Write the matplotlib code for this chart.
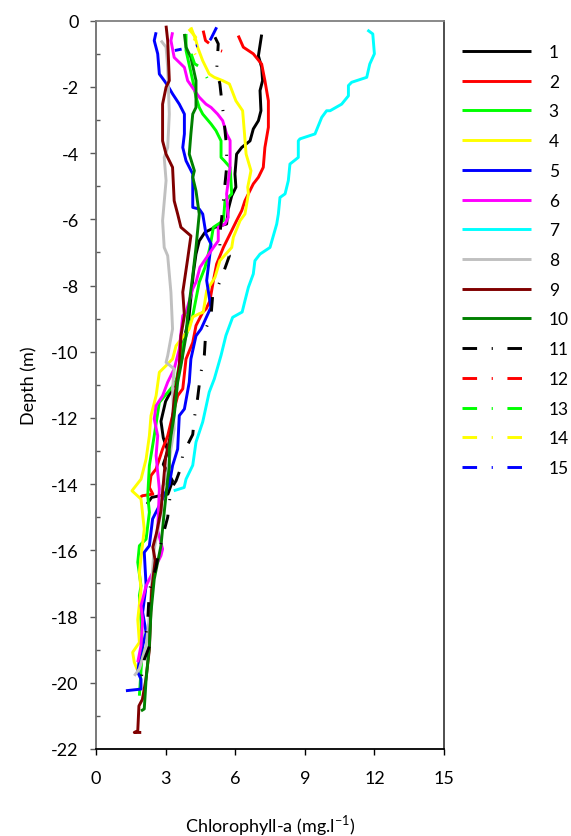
import matplotlib
matplotlib.use("Agg")
from matplotlib import pyplot as plt
from matplotlib.ticker import MultipleLocator

plt.rcParams['font.family'] = ['Lato', 'DejaVu Sans']
plt.rcParams['axes.unicode_minus'] = False

# chlorophyll-a (x) and depth (y)
chl_1 = [7.14, 7.0, 7.14, 7.18, 7.07, 7.11, 7.0, 6.78, 6.64, 6.28, 6.06, 5.99, 6.03, 5.85, 5.7, 5.63, 5.13, 4.7, 4.45,
         4.31, 4.2, 4.1, 4.0, 3.8, 3.7, 3.5, 3.3, 3.0, 2.8, 2.9, 3.1, 2.9, 3.3, 3.1, 2.4, 2.2]
depth_1 = [-0.42, -1.06, -1.41, -1.81, -2.11, -2.72, -3.02, -3.27, -3.63, -3.83, -4.03, -4.63, -5.03, -5.29, -5.7, -6.14,
           -6.24, -6.39, -6.65, -7.05, -7.6, -8.3, -9.0, -9.6, -10.2, -10.8, -11.1, -11.5, -12.1, -12.6, -13.0, -13.4,
           -13.9, -14.3, -14.4, -14.6]

chl_2 = [6.13, 6.35, 6.78, 7.14, 7.28, 7.43, 7.43, 7.28, 7.21, 7.0, 6.78, 6.42, 6.28, 6.06, 5.78, 5.49, 5.2, 5.06, 4.91,
         4.75, 4.6, 4.31, 4.17, 3.88, 3.74, 3.52, 3.3, 3.09, 2.87, 2.59, 2.37, 2.3, 2.45, 2.0, 1.9]
depth_2 = [-0.45, -0.8, -1.0, -1.31, -1.81, -2.42, -3.22, -3.83, -4.43, -4.73, -4.93, -5.44, -5.74, -6.04, -6.44, -6.85,
           -7.35, -7.85, -8.46, -8.7, -8.81, -9.21, -9.72, -10.22, -11.12, -11.33, -11.93, -12.54, -12.94, -13.54,
           -13.74, -14.1, -14.3, -14.35, -14.4]

chl_3 = [3.88, 3.88, 4.17, 4.31, 4.45, 4.6, 4.96, 5.17, 5.39, 5.39, 5.53, 5.78, 5.85, 5.56, 5.49, 5.06, 4.91, 4.7, 4.45,
         4.17, 3.74, 3.45, 3.09, 2.73, 2.51, 2.3, 2.23, 2.3, 2.16, 1.87, 1.8, 1.94, 1.87, 2.01, 1.87]
depth_3 = [-0.4, -0.9, -1.81, -2.31, -2.62, -2.82, -3.12, -3.32, -3.63, -4.13, -4.23, -4.43, -5.23, -5.44, -6.04, -6.24,
           -6.85, -7.45, -7.9, -8.91, -9.82, -10.92, -11.23, -11.53, -12.54, -13.44, -14.35, -14.85, -15.66, -15.86,
           -16.36, -17.07, -17.37, -18.88, -20.39]

chl_4 = [4.09, 4.31, 4.38, 4.6, 4.88, 5.1, 5.46, 5.75, 6.03, 6.32, 6.39, 6.47, 6.68, 6.54, 6.57, 6.42, 6.21, 5.92, 5.85,
         5.34, 5.13, 4.77, 4.62, 4.45, 4.17, 4.02, 3.45, 3.3, 3.02, 2.73, 2.59, 2.37, 2.3, 2.16, 1.94, 1.55, 1.94, 2.08,
         1.87, 1.94, 1.8, 1.87, 1.58, 1.65, 1.8]
depth_4 = [-0.2, -0.6, -0.8, -1.21, -1.61, -1.71, -1.81, -1.91, -2.42, -2.72, -3.32, -4.03, -4.53, -5.03, -5.23, -5.84,
           -6.04, -6.54, -6.85, -7.25, -7.75, -8.16, -8.81, -8.85, -8.95, -9.31, -9.82, -10.22, -10.42, -10.62, -11.33,
           -11.93, -12.54, -13.24, -13.85, -14.2, -14.45, -15.36, -16.66, -17.17, -18.09, -18.78, -19.08, -19.38, -19.64]

chl_5 = [2.59, 2.51, 2.66, 2.73, 2.94, 3.09, 3.30, 3.59, 3.81, 3.81, 3.74, 3.88, 4.17, 4.17, 4.45, 4.6, 4.74, 4.96, 4.91,
         4.77, 4.95, 4.53, 4.31, 4.09, 4.02, 3.81, 3.59, 3.52, 3.30, 3.16, 2.73, 2.44, 2.30, 2.08, 2.16, 2.01, 2.16, 1.87,
         1.80, 1.94, 1.94, 1.29]
depth_5 = [-0.35, -0.6, -1.0, -1.61, -1.81, -1.96, -2.21, -2.52, -2.82, -3.42, -3.83, -4.23, -4.63, -5.64, -5.69, -5.84,
           -6.44, -6.75, -7.05, -7.85, -8.66, -9.31, -9.52, -10.22, -10.92, -11.73, -11.93, -12.94, -13.44, -14.0,
           -14.65, -15.05, -15.86, -16.06, -17.07, -17.87, -18.48, -19.28, -19.68, -19.89, -20.19, -20.24]

chl_6 = [3.3, 3.23, 3.37, 3.81, 3.95, 4.45, 4.74, 4.96, 5.24, 5.46, 5.63, 5.78, 5.78, 5.63, 5.70, 5.56, 5.27, 5.27, 5.06,
         4.77, 4.48, 4.31, 4.17, 3.88, 3.74, 3.59, 3.37, 3.09, 2.87, 2.59, 2.51, 2.66, 2.59, 2.73, 2.66, 2.87, 2.80,
         2.16, 1.94, 2.01, 1.94, 1.80]
depth_6 = [-0.35, -0.6, -1.11, -1.41, -1.81, -2.31, -2.52, -2.62, -2.82, -3.02, -3.42, -3.62, -4.43, -5.23, -5.94, -6.14,
           -6.24, -6.65, -6.85, -7.15, -7.45, -7.9, -8.1, -8.81, -8.91, -9.92, -10.52, -10.92, -11.33, -11.63, -12.03,
           -12.54, -13.14, -14.15, -15.4, -15.96, -16.16, -17.07, -17.67, -18.09, -18.88, -19.38]

chl_7 = [11.7, 11.93, 12.0, 11.8, 11.67, 11.02, 10.88, 10.88, 10.59, 10.09, 9.94, 9.73, 9.44, 8.79, 8.72, 8.72, 8.36,
         8.29, 8.15, 7.93, 7.86, 7.79, 7.5, 7.07, 6.85, 6.78, 6.57, 6.42, 6.30, 5.89, 5.60, 5.39, 5.10, 4.88, 4.60, 4.31,
         4.17, 3.88, 3.80, 3.35]
depth_7 = [-0.28, -0.4, -1.0, -1.31, -1.71, -1.86, -1.96, -2.27, -2.52, -2.72, -2.72, -2.92, -3.42, -3.57, -3.63, -4.13,
           -4.33, -4.83, -5.23, -5.34, -5.84, -6.14, -6.85, -7.05, -7.25, -7.65, -8.05, -8.46, -8.80, -8.96, -9.51,
           -10.11, -10.82, -11.22, -12.12, -12.73, -13.43, -13.85, -14.1, -14.2]

chl_8 = [2.8, 3.02, 3.09, 3.16, 3.09, 2.94, 3.02, 2.87, 2.94, 3.09, 3.23, 3.30, 3.09, 3.02, 3.37, 3.30, 3.37, 3.23, 3.02,
         2.87, 2.80, 2.5, 2.4, 2.3, 2.16, 1.87, 1.65]
depth_8 = [-0.6, -0.8, -1.41, -2.82, -3.83, -4.13, -4.83, -6.04, -6.85, -7.1, -8.21, -9.31, -10.12, -10.32, -10.52,
           -11.12, -12.33, -12.94, -13.94, -14.05, -14.85, -16.0, -17.0, -18.0, -18.88, -19.58, -19.79]

chl_9 = [3.02, 3.09, 3.16, 3.02, 2.87, 2.87, 3.02, 3.30, 3.37, 3.52, 3.66, 4.09, 3.95, 3.74, 3.81, 3.66, 3.59, 3.37,
         3.23, 3.0, 2.9, 2.8, 2.6, 2.45, 2.55, 2.4, 2.35, 2.3, 2.15, 2.0, 1.85, 1.8, 1.65, 1.95]
depth_9 = [-0.15, -0.6, -1.81, -2.01, -2.52, -3.63, -4.03, -4.43, -5.44, -5.84, -6.24, -6.5, -7.2, -8.2, -8.91, -9.52,
           -10.42, -11.43, -12.44, -13.2, -14.0, -14.8, -15.5, -15.9, -16.3, -17.2, -18.1, -19.0, -19.9, -20.5, -20.7,
           -21.45, -21.5, -21.5]

chl_10 = [3.81, 3.88, 4.09, 4.31, 4.31, 4.17, 4.09, 4.02, 4.24, 4.17, 4.31, 4.45, 4.31, 4.17, 3.95, 3.88, 3.66, 3.52,
          3.37, 3.23, 3.16, 3.16, 3.09, 2.94, 2.80, 2.51, 2.37, 2.30, 2.16, 2.08, 1.94]
depth_10 = [-0.4, -0.8, -1.11, -1.81, -2.62, -2.82, -3.42, -4.03, -4.53, -4.73, -5.14, -5.84, -6.85, -7.7, -8.91, -9.52,
            -10.42, -10.92, -11.93, -12.54, -12.94, -13.5, -13.85, -14.85, -15.86, -16.87, -17.87, -18.88, -19.89,
            -20.79, -20.85]

chl_11 = [5.13, 5.27, 5.2, 5.34, 5.42, 5.49, 5.56, 5.63, 5.63, 5.56, 5.49, 5.42, 5.34, 5.34, 5.75, 5.42, 5.27, 5.03,
          4.96, 4.74, 4.67, 4.53, 4.45, 4.38, 4.24, 4.17, 3.74, 3.66, 3.45, 3.23, 3.09, 2.94, 2.66, 2.59, 2.3, 2.23, 2.16,
          2.3, 2.08, 1.94]
depth_11 = [-0.5, -0.7, -1.51, -1.91, -2.42, -2.82, -3.32, -3.83, -4.43, -4.93, -5.44, -5.94, -6.44, -6.85, -7.1, -7.75,
            -8.0, -8.3, -8.9, -9.3, -10.1, -10.6, -11.0, -11.4, -12.0, -12.5, -13.1, -13.5, -13.9, -14.15, -15.0, -15.4,
            -16.2, -16.5, -17.2, -18.1, -18.5, -18.9, -19.3, -19.9]

chl_12 = [4.62, 4.72, 5.0, 5.13, 5.56]
depth_12 = [-0.3, -0.6, -0.75, -0.85, -0.95]

chl_13 = [4.1, 4.25, 4.6, 4.9]
depth_13 = [-1.0, -1.3, -1.45, -1.9]

chl_14 = [4.0, 4.3, 4.1, 4.3, 4.6]
depth_14 = [-0.25, -0.5, -0.8, -1.05, -1.15]

chl_15 = [5.2, 4.95, 4.8, 4.1, 3.4]
depth_15 = [-0.2, -0.55, -0.68, -0.8, -0.9]

labels = [str(i) for i in range(1, 16)]
colors = ['#000000', '#FF0000', '#00FF00', '#FFFF00', '#0000FF', '#FF00FF', '#00FFFF', '#C0C0C0',
          '#800000', '#008000', '#000000', '#FF0000', '#00FF00', '#FFFF00', '#0000FF']

chl = [chl_1, chl_2, chl_3, chl_4, chl_5, chl_6, chl_7, chl_8, chl_9, chl_10, chl_11, chl_12, chl_13, chl_14, chl_15]
depth = [depth_1, depth_2, depth_3, depth_4, depth_5, depth_6, depth_7, depth_8, depth_9, depth_10,
         depth_11, depth_12, depth_13, depth_14, depth_15]

fig = plt.figure(figsize=(5.71, 8.37), dpi=100)
ax = fig.add_axes([96 / 571, 1 - 750 / 837, 348 / 571, (750 - 21.7) / 837])

dashdot = (0, (5, 5, 0.4, 5))
for i in range(15):
    ls = '-' if i < 10 else dashdot
    ax.plot(chl[i], depth[i], color=colors[i], lw=2.1, linestyle=ls, label=labels[i],
            solid_joinstyle='round', solid_capstyle='butt', dash_capstyle='butt')

ax.set_xlim(0, 15)
ax.set_ylim(-22, 0)
ax.xaxis.set_major_locator(MultipleLocator(3))
ax.yaxis.set_major_locator(MultipleLocator(2))
ax.yaxis.set_minor_locator(MultipleLocator(1))
ax.tick_params(axis='x', which='major', direction='out', length=4, width=1, pad=11, labelsize=13, colors='black')
ax.tick_params(axis='y', which='major', direction='out', length=4.5, width=1, pad=8, labelsize=13)
ax.tick_params(axis='y', which='minor', direction='in', length=3, width=1, color='#595959')
ax.tick_params(axis='y', which='major', color='#595959')

ax.spines['left'].set_color('#6e6e6e')
ax.spines['top'].set_color('#808080')
ax.spines['right'].set_color('#404040')
ax.spines['bottom'].set_color('black')
for s in ax.spines.values():
    s.set_linewidth(1.3)

ax.set_xlabel(r'Chlorophyll-a (mg.l$^{\mathregular{-1}}$)', fontsize=13, labelpad=19)
ax.set_ylabel('Depth (m)', fontsize=13, labelpad=10)

leg = fig.legend(loc='upper left', bbox_to_anchor=(462 / 571, 1 - 45 / 837), frameon=False, fontsize=12.5,
                 handlelength=4.0, handletextpad=1.0, labelspacing=0.79, borderpad=0, borderaxespad=0)

fig.savefig('out.png', dpi=100)
